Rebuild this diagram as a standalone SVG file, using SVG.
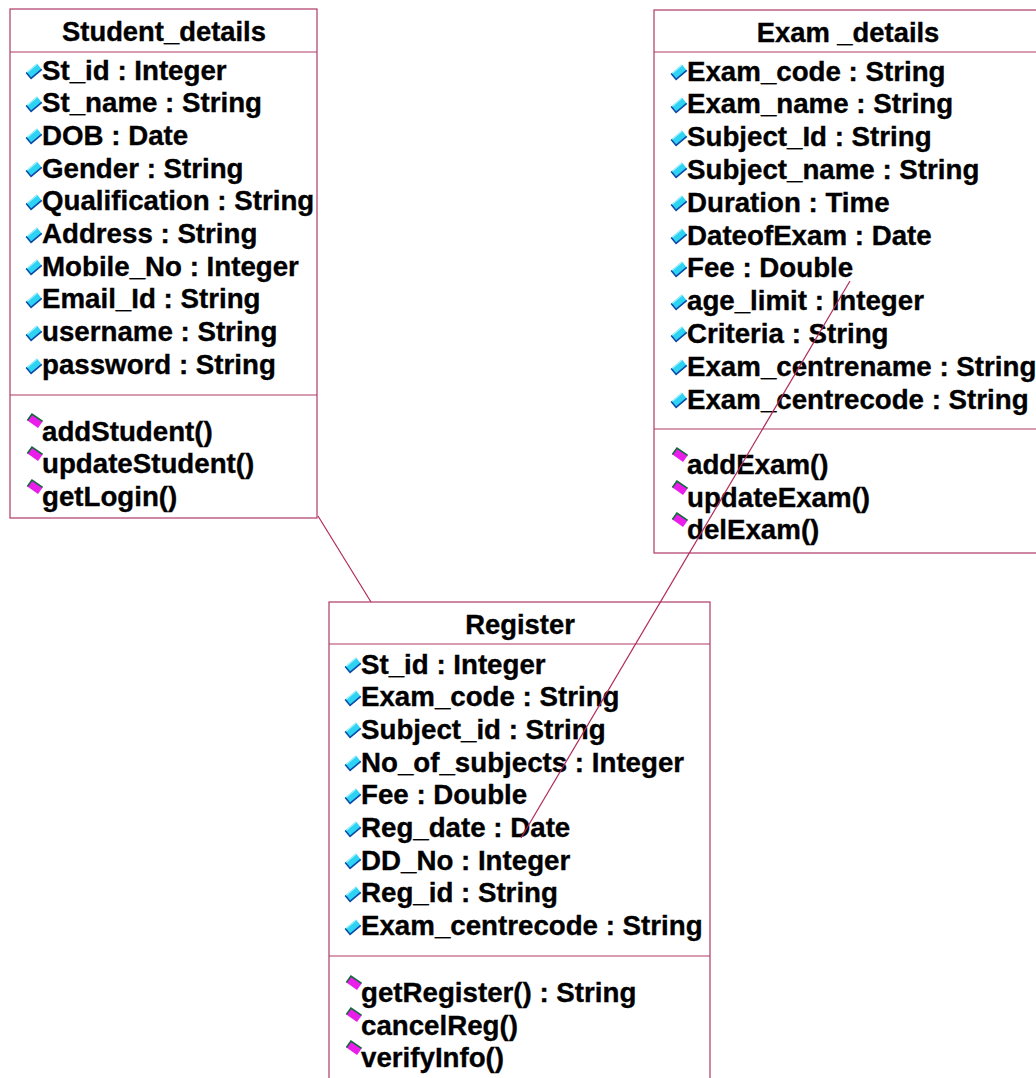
<svg xmlns="http://www.w3.org/2000/svg" width="1036" height="1078" viewBox="0 0 1036 1078">
  <style>
    .box { fill: #ffffff; stroke: #b03a66; stroke-width: 1.2; }
    .sep { stroke: #b03a66; stroke-width: 1.2; }
    .conn { stroke: #b02a5a; stroke-width: 1.2; fill: none; }
    text { font-family: "Liberation Sans", Arial, sans-serif; font-weight: bold; font-size: 27.7px; fill: #000000; stroke: #000000; stroke-width: 0.35; }
    .title { text-anchor: middle; font-size: 27.4px; }
  </style>
  <defs>
    <!-- attribute marker: cyan tilted bar with dark blue lower edge -->
    <g id="attr">
      <g transform="rotate(-40)">
        <rect x="-7" y="-3.8" width="14" height="7.6" fill="#2ed2f2"/>
        <path d="M-7,-3.8 L-7,3.8 L7,3.8" fill="none" stroke="#0a4aa8" stroke-width="1.6"/>
        <path d="M-6,-3.2 L6.5,-3.2" fill="none" stroke="#a8f4ff" stroke-width="1"/>
      </g>
    </g>
    <!-- operation marker: magenta tilted bar with dark green upper edge -->
    <g id="oper">
      <g transform="rotate(35)">
        <rect x="-6.5" y="-4" width="13" height="8" fill="#ea1eea"/>
        <path d="M-6.5,4 L-6.5,-4 L6.5,-4" fill="none" stroke="#106a3a" stroke-width="1.6"/>
      </g>
    </g>
  </defs>

  <!-- Student_details class -->
  <g id="student_details">
    <rect class="box" x="10" y="9" width="307" height="509"/>
    <line class="sep" x1="10" y1="52" x2="317" y2="52"/>
    <line class="sep" x1="10" y1="395" x2="317" y2="395"/>
    <text class="title" x="164" y="41">Student_details</text>
    <use href="#attr" x="34" y="71"/><text x="42" y="79.5">St_id : Integer</text>
    <use href="#attr" x="34" y="104"/><text x="42" y="112.2">St_name : String</text>
    <use href="#attr" x="34" y="136"/><text x="42" y="144.9">DOB : Date</text>
    <use href="#attr" x="34" y="169"/><text x="42" y="177.6">Gender : String</text>
    <use href="#attr" x="34" y="202"/><text x="42" y="210.3">Qualification : String</text>
    <use href="#attr" x="34" y="235"/><text x="42" y="243">Address : String</text>
    <use href="#attr" x="34" y="267"/><text x="42" y="275.7">Mobile_No : Integer</text>
    <use href="#attr" x="34" y="300"/><text x="42" y="308.4">Email_Id : String</text>
    <use href="#attr" x="34" y="333"/><text x="42" y="341.1">username : String</text>
    <use href="#attr" x="34" y="366"/><text x="42" y="373.8">password : String</text>
    <use href="#oper" x="35" y="421"/><text x="42" y="440.5">addStudent()</text>
    <use href="#oper" x="35" y="454"/><text x="42" y="473">updateStudent()</text>
    <use href="#oper" x="35" y="487"/><text x="42" y="505.5">getLogin()</text>
  </g>

  <!-- Exam _details class -->
  <g id="exam_details">
    <rect class="box" x="654" y="10" width="390" height="543"/>
    <line class="sep" x1="654" y1="52" x2="1044" y2="52"/>
    <line class="sep" x1="654" y1="429" x2="1044" y2="429"/>
    <text class="title" x="848" y="42">Exam _details</text>
    <use href="#attr" x="679" y="72"/><text x="687" y="80.5">Exam_code : String</text>
    <use href="#attr" x="679" y="105"/><text x="687" y="113.3">Exam_name : String</text>
    <use href="#attr" x="679" y="138"/><text x="687" y="146.1">Subject_Id : String</text>
    <use href="#attr" x="679" y="170"/><text x="687" y="178.9">Subject_name : String</text>
    <use href="#attr" x="679" y="203"/><text x="687" y="211.7">Duration : Time</text>
    <use href="#attr" x="679" y="236"/><text x="687" y="244.5">DateofExam : Date</text>
    <use href="#attr" x="679" y="269"/><text x="687" y="277.3">Fee : Double</text>
    <use href="#attr" x="679" y="302"/><text x="687" y="310.1">age_limit : Integer</text>
    <use href="#attr" x="679" y="334"/><text x="687" y="342.9">Criteria : String</text>
    <use href="#attr" x="679" y="367"/><text x="687" y="375.7">Exam_centrename : String</text>
    <use href="#attr" x="679" y="400"/><text x="687" y="408.5">Exam_centrecode : String</text>
    <use href="#oper" x="680" y="455"/><text x="687" y="474">addExam()</text>
    <use href="#oper" x="680" y="488"/><text x="687" y="506.5">updateExam()</text>
    <use href="#oper" x="680" y="520"/><text x="687" y="539">delExam()</text>
  </g>

  <!-- Register class -->
  <g id="register">
    <rect class="box" x="329" y="602" width="381" height="490"/>
    <line class="sep" x1="329" y1="644" x2="710" y2="644"/>
    <line class="sep" x1="329" y1="956" x2="710" y2="956"/>
    <text class="title" x="520" y="634">Register</text>
    <use href="#attr" x="353" y="665"/><text x="361" y="673.5">St_id : Integer</text>
    <use href="#attr" x="353" y="698"/><text x="361" y="706.2">Exam_code : String</text>
    <use href="#attr" x="353" y="730"/><text x="361" y="738.9">Subject_id : String</text>
    <use href="#attr" x="353" y="763"/><text x="361" y="771.6">No_of_subjects : Integer</text>
    <use href="#attr" x="353" y="796"/><text x="361" y="804.3">Fee : Double</text>
    <use href="#attr" x="353" y="829"/><text x="361" y="837">Reg_date : Date</text>
    <use href="#attr" x="353" y="861"/><text x="361" y="869.7">DD_No : Integer</text>
    <use href="#attr" x="353" y="894"/><text x="361" y="902.4">Reg_id : String</text>
    <use href="#attr" x="353" y="927"/><text x="361" y="935.1">Exam_centrecode : String</text>
    <use href="#oper" x="354" y="983"/><text x="361" y="1002">getRegister() : String</text>
    <use href="#oper" x="354" y="1015"/><text x="361" y="1034.5">cancelReg()</text>
    <use href="#oper" x="354" y="1048"/><text x="361" y="1067">verifyInfo()</text>
  </g>

  <!-- connectors, drawn over the class boxes -->
  <g id="connectors">
    <line class="conn" x1="318" y1="516" x2="371" y2="602"/>
    <line class="conn" x1="850" y1="281" x2="521" y2="838"/>
  </g>
</svg>
